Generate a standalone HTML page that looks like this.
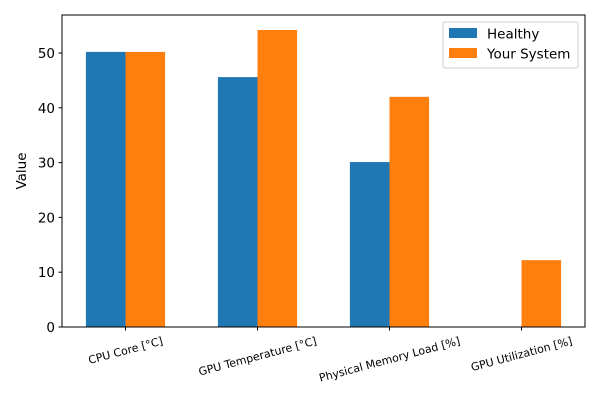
<!DOCTYPE html>
<html><head><meta charset="utf-8"><style>body{margin:0;background:#fff}svg{display:block;font-family:"DejaVu Sans","Liberation Sans",sans-serif}</style></head>
<body>
<svg width="600" height="400">
<g id="plot"></g>
</svg>
<script>
const categories=["CPU Core [°C]","GPU Temperature [°C]","Physical Memory Load [%]","GPU Utilization [%]"];
const healthy=[50.2,45.6,30.1,0];
const yourSystem=[50.2,54.2,42.0,12.2];
const yTicks=[0,10,20,30,40,50];
const seriesNames=["Healthy","Your System"];
const L=62,R=585,T=15,B=327;
const y=v=>B-v*(B-53)/50;
const x=i=>125.5+i*132;
const bw=39.6;
const NS="http://www.w3.org/2000/svg";
const g=document.getElementById('plot');
function mk(t,a,p){const e=document.createElementNS(NS,t);for(const k in a)e.setAttribute(k,a[k]);(p||g).appendChild(e);return e;}
const colors=["#1f77b4","#ff7f0e"];
[healthy,yourSystem].forEach((s,si)=>{s.forEach((v,i)=>{
 const r=mk('rect',{x:x(i)+(si?0:-bw),y:y(v),width:bw,height:B-y(v),fill:colors[si]});
 
 
});});
const ax=mk('rect',{x:L,y:T,width:R-L,height:B-T,fill:'none',stroke:'#000','stroke-width':1});


yTicks.forEach(t=>{
 mk('line',{x1:L-3.5,x2:L,y1:y(t),y2:y(t),stroke:'#000'});
 const tx=mk('text',{x:L-7,y:y(t)+5,'text-anchor':'end','font-size':13.5});
 tx.textContent=t;
 
 
});
categories.forEach((c,i)=>{
 mk('line',{x1:x(i),x2:x(i),y1:B,y2:B+3.5,stroke:'#000'});
 const tx=mk('text',{x:0,y:4,'text-anchor':'middle','font-size':11});
 tx.textContent=c;
 
 
 const w=tx.getComputedTextLength();
 const cy=335+(w*0.2588+11*0.966)/2;
 tx.setAttribute('transform',`translate(${x(i)},${cy}) rotate(-15)`);
});
const yt=mk('text',{x:0,y:0,'text-anchor':'middle','font-size':13.5,transform:`translate(26,${(T+B)/2}) rotate(-90)`});
yt.textContent="Value";


const lg=mk('g',{});


mk('rect',{x:443,y:22,width:135,height:46,rx:2,fill:'#fff',stroke:'#ccc'},lg);
seriesNames.forEach((n,i)=>{
 mk('rect',{x:449,y:28+i*20,width:28,height:10,fill:colors[i]},lg);
 const t=mk('text',{x:487,y:38.5+i*20,'font-size':13.5},lg);
 t.textContent=n;
 
 
});
</script>
</body></html>
